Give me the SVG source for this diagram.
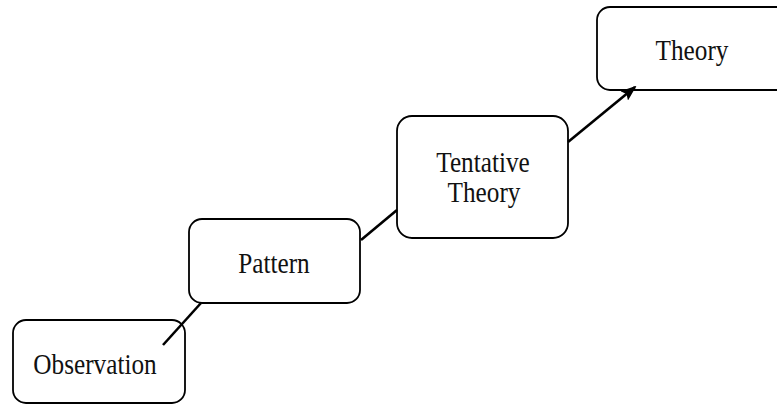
<svg xmlns="http://www.w3.org/2000/svg" width="777" height="404" viewBox="0 0 777 404">
<style>
.box{fill:#fff;stroke:#000;stroke-width:1.8}
.lbl{font-family:"Liberation Serif","Times New Roman",serif;font-size:29px;fill:#111;text-anchor:middle}
.con{stroke:#000;stroke-width:2.6;fill:none}
</style>
<defs>
<marker id="ah" markerWidth="16" markerHeight="12" refX="14" refY="6" orient="auto" markerUnits="userSpaceOnUse" viewBox="0 0 16 12">
<path d="M0,0 L16,6 L0,12 L3,6 z" fill="#000"/>
</marker>
</defs>
<rect width="777" height="404" fill="#fff"/>
<g id="observation">
<rect class="box" x="13" y="320" width="172" height="83" rx="13"/>
<text class="lbl" transform="translate(95,374) scale(0.87,1)">Observation</text>
</g>
<g id="pattern">
<rect class="box" x="189" y="219" width="171" height="84" rx="13"/>
<text class="lbl" transform="translate(274,273) scale(0.87,1)">Pattern</text>
</g>
<g id="tentative">
<rect class="box" x="397" y="116" width="171" height="122" rx="15"/>
<text class="lbl" transform="translate(483,172) scale(0.87,1)">Tentative</text>
<text class="lbl" transform="translate(484,202) scale(0.87,1)">Theory</text>
</g>
<g id="theory">
<rect class="box" x="597" y="7" width="200" height="83" rx="13"/>
<text class="lbl" transform="translate(692,60) scale(0.87,1)">Theory</text>
</g>
<g id="connectors">
<line class="con" x1="163" y1="345" x2="201" y2="303"/>
<line class="con" x1="361" y1="240" x2="397" y2="210"/>
<line class="con" x1="568" y1="142" x2="635" y2="87" marker-end="url(#ah)"/>
</g>
</svg>
